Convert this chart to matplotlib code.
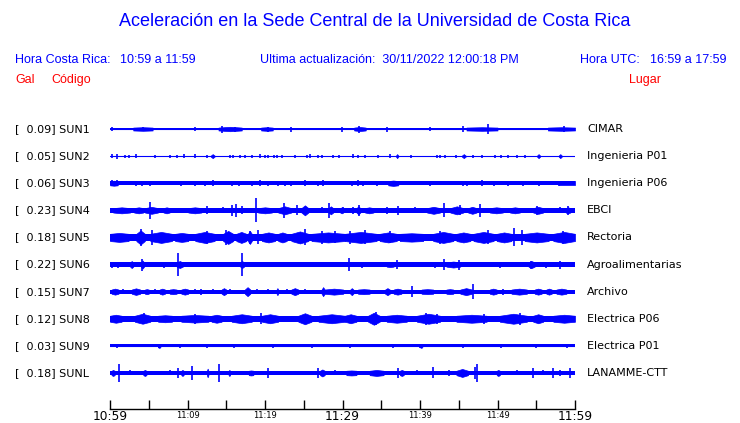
import matplotlib
matplotlib.use("Agg")
import matplotlib.pyplot as plt
import matplotlib.transforms as mtransforms

# --- datos de las estaciones ---
codes = ["SUN1", "SUN2", "SUN3", "SUN4", "SUN5", "SUN6", "SUN7", "SUN8", "SUN9", "SUNL"]
places = ["CIMAR", "Ingenieria P01", "Ingenieria P06", "EBCI", "Rectoria",
          "Agroalimentarias", "Archivo", "Electrica P06", "Electrica P01", "LANAMME-CTT"]
peaks = [0.09, 0.05, 0.06, 0.23, 0.18, 0.22, 0.15, 0.12, 0.03, 0.18]

# semiancho del ruido de fondo (px)
base_px = [1.45, 0.5, 2.1, 2.2, 3.6, 2.1, 2.1, 3.0, 1.5, 2.2]

# picos: (minuto desde 10:59, semiamplitud px)
spikes_sun1 = [(0.2, 2), (4.2, 2.2), (11.0, 2), (14.5, 3.5), (16.1, 2.5), (20.4, 2.5),
               (23.4, 2.5), (29.9, 2.5), (32.1, 3.5), (35.7, 2.5), (41.3, 2), (45.6, 3),
               (48.8, 5), (58.6, 3)]
spikes_sun2 = [(0.2, 2), (0.9, 2.5), (1.9, 1.5), (2.5, 1.5), (3.4, 2), (5.8, 1.5), (7.7, 1.5),
               (8.6, 1.5), (9.6, 2), (11.0, 2), (12.5, 1.5), (15.5, 1.5), (15.9, 1.5),
               (16.8, 1.5), (17.4, 1.5), (18.3, 1.5), (19.4, 2), (20.0, 1.5), (20.4, 1.5),
               (21.1, 1.5), (21.5, 1.5), (22.2, 1.5), (23.9, 1.5), (25.4, 1.5), (25.8, 2),
               (26.9, 1.5), (27.3, 1.5), (28.8, 1.5), (29.5, 1.5), (31.4, 2), (32.0, 1.5),
               (32.9, 1.5), (34.6, 1.5), (36.1, 2), (38.9, 1.5), (42.2, 1.5), (42.6, 1.5),
               (43.2, 1.5), (44.7, 1.5), (46.9, 1.5), (48.0, 1.5), (49.7, 1.5), (50.5, 1.5),
               (51.4, 1.5), (52.5, 1.5), (53.5, 1.5)]
spikes_sun3 = [(0.2, 3), (0.9, 3), (3.4, 2.5), (4.1, 2.5), (5.2, 2.5), (9.2, 2.5), (11.0, 2.5),
               (12.3, 2.5), (13.3, 3), (15.7, 2.5), (16.6, 2.5), (18.3, 2.5), (19.4, 3),
               (20.4, 2.5), (21.7, 2.5), (22.6, 2.5), (23.4, 2.5), (25.2, 3), (26.9, 2.5),
               (27.5, 3), (31.2, 2.5), (32.0, 3), (32.7, 2.5), (34.4, 2.5), (41.3, 2.5),
               (45.6, 2.5), (46.0, 2.5), (48.0, 3), (49.5, 2.5), (51.4, 2.5), (53.3, 2.5),
               (55.3, 2.5), (57.9, 2.5)]
spikes_sun4 = [(5.1, 8.3), (12.5, 4), (13.5, 2.5), (14.6, 3), (15.7, 5.8), (16.3, 6.5),
               (17.0, 4), (18.8, 12), (22.5, 7.7), (24.1, 5), (27.3, 3), (28.2, 7.8),
               (30.1, 3), (31.4, 3.5), (32.1, 5.8), (35.7, 3.5), (37.2, 4.5), (39.4, 3),
               (43.1, 7), (45.2, 5), (47.7, 6.5), (55.1, 4.5), (58.1, 3), (59.1, 4.5)]
spikes_sun5 = [(4.0, 8.5), (5.4, 7.5), (12.5, 6.7), (15.0, 7.5), (18.1, 6.5), (19.1, 7),
               (25.2, 8), (27.3, 6.5), (29.0, 6), (31.0, 6.5), (32.9, 7), (36.1, 6),
               (42.6, 6.5), (48.8, 7), (52.1, 9), (53.1, 7.5), (58.5, 6.5)]
spikes_sun6 = [(0.2, 3), (1.0, 3), (4.1, 6), (7.0, 3), (8.8, 11.2), (12.7, 2), (13.8, 2.5),
               (15.3, 2.5), (15.9, 2.5), (17.0, 11.5), (17.8, 2.5), (19.8, 2.5), (20.6, 2.5),
               (21.5, 2.5), (22.8, 2.5), (24.3, 2.5), (25.8, 2.5), (26.9, 2.5), (27.7, 2.5),
               (29.0, 2.5), (30.9, 6.8), (32.5, 3), (33.6, 2.5), (37.0, 4.5), (37.9, 2.5),
               (38.7, 2.5), (41.9, 3), (43.1, 5.3), (45.0, 5), (47.5, 2.5), (49.4, 2.5),
               (50.3, 3), (51.2, 2.5), (52.1, 2.5), (54.3, 4), (56.3, 3), (58.0, 4)]
spikes_sun7 = [(1.7, 2.5), (5.8, 2.5), (11.0, 2.5), (11.8, 3), (13.3, 2.5), (15.5, 2.5),
               (19.0, 2.5), (20.4, 2.5), (22.8, 2.5), (25.2, 2.5), (39.0, 5.5), (46.8, 7.3),
               (50.7, 3)]
spikes_sun8 = [(4.4, 5.5), (11.0, 5), (19.5, 5.5), (34.3, 6.7), (40.8, 6), (42.2, 5),
               (48.3, 5), (52.9, 6)]
spikes_sun9 = [(0.9, 2.2), (6.3, 2), (9.0, 1.8), (12.5, 1.8), (16.0, 1.8), (21.0, 1.8),
               (26.0, 1.8), (31.0, 1.8), (36.5, 1.8), (40.0, 2), (45.6, 2.2), (50.5, 1.8),
               (55.0, 1.8), (59.0, 2)]
spikes_sunl = [(1.2, 9), (2.6, 2.5), (7.7, 2.5), (8.8, 4.7), (10.6, 6.7), (14.0, 9),
               (20.4, 5), (22.1, 2), (24.1, 2), (25.8, 2), (26.9, 5), (29.0, 2.5),
               (37.2, 5), (39.6, 2.5), (41.7, 5.5), (43.7, 3), (47.1, 6.2), (47.3, 9.3),
               (52.5, 2.5), (54.6, 5), (55.9, 2.5), (57.2, 4.7), (58.1, 3), (59.3, 5.3)]

# rafagas: (minuto inicio, minuto fin, semiamplitud px)
bursts_sun1 = [(3.0, 5.5, 1.8), (14.0, 17.0, 2.2), (19.5, 21.0, 1.8), (31.5, 33.0, 2.0),
               (46.0, 50.0, 1.8), (56.5, 60.0, 1.8)]
bursts_sun2 = [(13.0, 13.5, 2), (36.9, 37.2, 2), (45.4, 45.9, 2), (55.1, 55.5, 2),
               (57.9, 58.3, 2)]
bursts_sun3 = [(0.0, 1.0, 2.5), (35.9, 37.2, 2.7), (57.9, 60.0, 2.1)]
bursts_sun4 = [(0.4, 2.6, 3), (3.1, 4.3, 3), (4.5, 6.2, 3.5), (6.9, 7.7, 3), (10.1, 11.8, 3),
               (19.1, 20.9, 3), (21.7, 23.4, 4), (24.7, 25.6, 5), (28.2, 28.8, 4),
               (29.7, 30.1, 3), (31.8, 32.3, 4), (32.9, 34.0, 3), (40.9, 42.6, 3.5),
               (43.9, 45.6, 4), (46.2, 47.3, 3.5), (49.0, 50.7, 3), (51.6, 52.9, 3),
               (54.6, 55.9, 3.5), (58.8, 59.4, 3)]
bursts_sun5 = [(0.0, 2.4, 4.5), (3.4, 4.5, 7.0), (5.2, 8.0, 5.5), (8.4, 10.1, 4.5),
               (11.0, 13.5, 5.5), (14.6, 15.9, 6.5), (16.3, 17.6, 5.5), (17.8, 18.3, 6.5),
               (19.6, 21.3, 5), (21.7, 22.8, 5), (23.4, 25.6, 6), (26.0, 30.3, 5),
               (30.3, 34.4, 5.5), (34.8, 37.0, 5), (37.4, 40.4, 4.2), (41.7, 44.3, 5.5),
               (44.7, 46.5, 5), (46.9, 49.5, 5.5), (49.9, 51.8, 5), (53.5, 56.6, 5),
               (57.2, 60.0, 5.5)]
bursts_sun6 = [(2.6, 3.0, 3.5), (4.0, 4.4, 4), (8.6, 9.4, 3.5), (16.8, 17.3, 3.5),
               (35.7, 36.6, 2.5), (43.4, 45.2, 3), (54.0, 54.8, 3.5)]
bursts_sun7 = [(0.2, 1.1, 3), (2.8, 3.9, 3.3), (4.5, 5.0, 2.5), (6.4, 7.1, 3), (7.7, 8.6, 2.5),
               (9.2, 10.1, 3), (14.4, 15.0, 3.5), (17.4, 18.1, 4.5), (21.5, 21.7, 3.5),
               (23.4, 24.3, 3.5), (27.3, 27.7, 4.5), (27.7, 30.1, 3), (31.0, 31.4, 3.5),
               (32.0, 33.5, 2.5), (35.5, 36.1, 3.5), (36.6, 37.6, 3), (40.2, 41.7, 2.5),
               (43.4, 44.3, 2.5), (45.2, 46.7, 3.5), (49.0, 49.9, 3), (51.8, 53.8, 3),
               (54.8, 55.7, 3), (56.3, 57.0, 3), (57.6, 58.9, 3)]
bursts_sun8 = [(0.0, 1.5, 4), (3.2, 5.2, 5), (6.2, 8.0, 3.5), (9.2, 12.7, 3.8), (13.1, 14.4, 4),
               (15.7, 18.3, 4.5), (19.6, 21.7, 4.5), (24.3, 26.0, 5.5), (26.9, 30.3, 4.5),
               (30.3, 31.8, 4.5), (33.3, 34.8, 6), (35.7, 38.3, 4), (39.6, 42.6, 5),
               (44.7, 48.6, 4), (50.3, 53.8, 5), (54.6, 55.9, 4.5), (57.2, 60.0, 4)]
bursts_sun9 = [(6.2, 6.5, 2), (40.0, 40.3, 2)]
bursts_sunl = [(0.2, 0.6, 3), (4.3, 4.7, 3), (9.2, 9.5, 3), (12.5, 12.7, 4.3), (15.3, 15.5, 3),
               (17.9, 18.5, 2.5), (27.1, 27.7, 3.5), (30.5, 31.8, 2.5), (33.5, 35.3, 3),
               (37.4, 37.9, 3), (44.7, 46.2, 4), (49.9, 50.3, 3)]

spikes = [spikes_sun1, spikes_sun2, spikes_sun3, spikes_sun4, spikes_sun5,
          spikes_sun6, spikes_sun7, spikes_sun8, spikes_sun9, spikes_sunl]
bursts = [bursts_sun1, bursts_sun2, bursts_sun3, bursts_sun4, bursts_sun5,
          bursts_sun6, bursts_sun7, bursts_sun8, bursts_sun9, bursts_sunl]

tick_minutes = [0, 10, 20, 30, 40, 50, 60]
tick_labels = ["10:59", "11:09", "11:19", "11:29", "11:39", "11:49", "11:59"]
major_idx = [0, 3, 6]

W, H = 740, 423
ROW_PX = 27.1
BLUE = "#0000ff"
HEAD = "Liberation Sans"
LAB = "DejaVu Sans"

fig = plt.figure(figsize=(W / 100, H / 100), dpi=100)
fig.patch.set_facecolor("white")

# textos de encabezado
fig.text(375 / W, 1 - 22 / H, "Aceleración en la Sede Central de la Universidad de Costa Rica",
         color=BLUE, fontsize=13, family=HEAD, ha="center", va="center")
fig.text(15 / W, 1 - 60 / H, "Hora Costa Rica:", color=BLUE, fontsize=9, family=HEAD, va="center")
fig.text(120 / W, 1 - 60 / H, "10:59 a 11:59", color=BLUE, fontsize=9, family=HEAD, va="center")
fig.text(260 / W, 1 - 60 / H, "Ultima actualización:  30/11/2022 12:00:18 PM", color=BLUE,
         fontsize=9, family=HEAD, va="center")
fig.text(580 / W, 1 - 60 / H, "Hora UTC:", color=BLUE, fontsize=9, family=HEAD, va="center")
fig.text(650 / W, 1 - 60 / H, "16:59 a 17:59", color=BLUE, fontsize=9, family=HEAD, va="center")
fig.text(15 / W, 1 - 80 / H, "Gal", color="red", fontsize=9, family=HEAD, va="center")
fig.text(51 / W, 1 - 80 / H, "Código", color="red", fontsize=9, family=HEAD, va="center")
fig.text(629 / W, 1 - 80 / H, "Lugar", color="red", fontsize=9, family=HEAD, va="center")

# area de las trazas
ax = fig.add_axes([110 / W, 1 - 409 / H, 465 / W, (409 - 115) / H])
ax.set_xlim(0, 60)
ax.set_ylim(10.33, -0.517)

for i in range(len(codes)):
    b = base_px[i] / ROW_PX
    ax.fill_between([0, 60], [i - b, i - b], [i + b, i + b], color=BLUE, lw=0)
    ax.plot([0, 60], [i, i], color=BLUE, lw=0.8)
    # cada rafaga como un huso: crece del fondo al maximo y vuelve
    for s, e, h in bursts[i]:
        hh = max(h / ROW_PX, b)
        xs = [s, (s + e) / 2, e]
        ax.fill_between(xs, [i - b, i - hh, i - b], [i + b, i + hh, i + b],
                        color=BLUE, lw=0.5)
    mins = [m for m, h in spikes[i]]
    lo = [i - h / ROW_PX for m, h in spikes[i]]
    hi = [i + h / ROW_PX for m, h in spikes[i]]
    ax.vlines(mins, lo, hi, color=BLUE, lw=1.2)

# etiquetas izquierda y derecha
trans_l = mtransforms.blended_transform_factory(fig.transFigure, ax.transData)
for i in range(len(codes)):
    ax.text(15 / W, i, "[%6.2f] %s" % (peaks[i], codes[i]), transform=trans_l,
            fontsize=8, family=LAB, va="center", ha="left", color="black")
    ax.text(587 / W, i, places[i], transform=trans_l,
            fontsize=8, family=LAB, va="center", ha="left", color="black")

# eje de tiempo
for side in ["top", "left", "right"]:
    ax.spines[side].set_visible(False)
ax.spines["bottom"].set_linewidth(1.0)
ax.set_yticks([])
ax.set_xticks([tick_minutes[k] for k in major_idx])
ax.set_xticklabels([tick_labels[k] for k in major_idx], fontsize=8.8, family=LAB)
minor_pos = list(range(5, 60, 5))
minor_lab = []
for m in minor_pos:
    if m in tick_minutes and tick_minutes.index(m) not in major_idx:
        minor_lab.append(tick_labels[tick_minutes.index(m)])
    else:
        minor_lab.append("")
ax.set_xticks(minor_pos, minor=True)
ax.set_xticklabels(minor_lab, minor=True, fontsize=6, family=LAB)
ax.tick_params(axis="x", which="major", direction="in", length=6.5, width=1.0, pad=0.5)
ax.tick_params(axis="x", which="minor", direction="in", length=6.5, width=1.0, pad=1.5)
ax.patch.set_alpha(0)

fig.savefig("out.png", dpi=100, facecolor="white")
